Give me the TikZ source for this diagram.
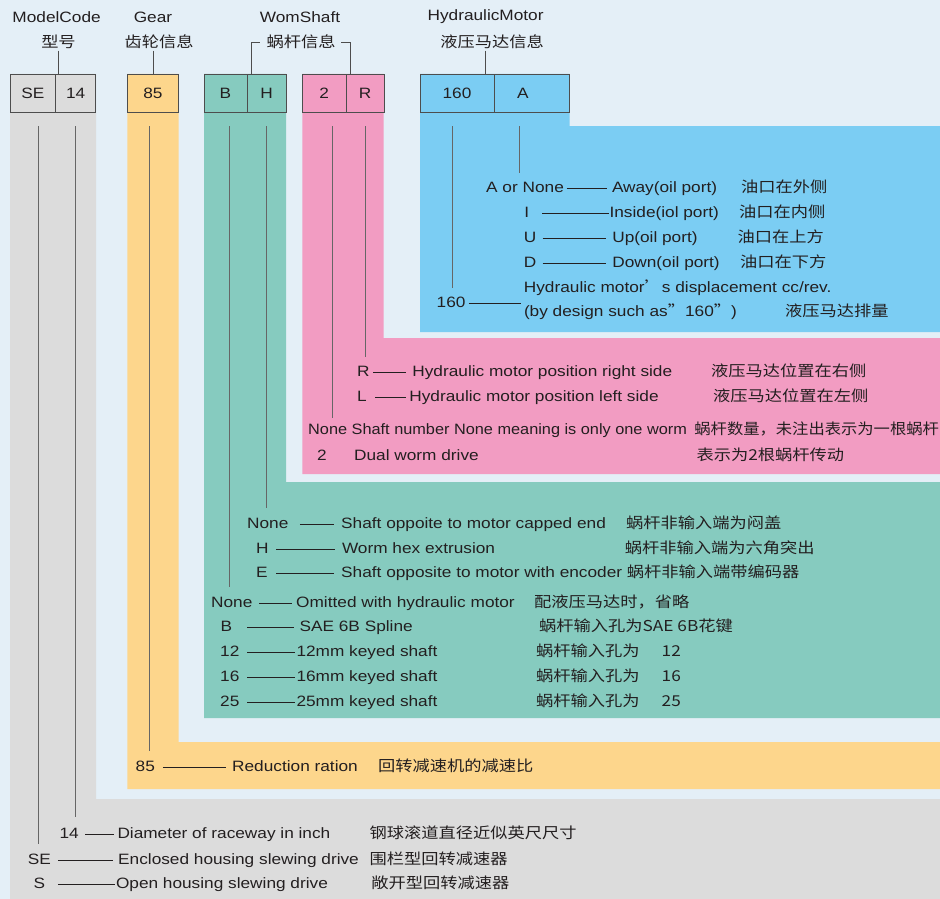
\documentclass[tikz,border=0pt]{standalone}
\usepackage{fontspec}
\usepackage{graphicx}
\setmainfont{Liberation Sans}[FakeStretch=1.15]
\newfontfamily\cjk{Noto Sans CJK SC}[FakeStretch=1.15]
\usetikzlibrary{positioning}
\definecolor{pagebg}{HTML}{E4EFF7}
\definecolor{greyfill}{HTML}{DCDCDC}
\definecolor{gearfill}{HTML}{FDD68C}
\definecolor{wormfill}{HTML}{86CBBF}
\definecolor{shaftfill}{HTML}{F29CC2}
\definecolor{motorfill}{HTML}{7BCDF3}
\definecolor{inkdark}{HTML}{231F20}
\definecolor{boxline}{HTML}{4D4D4D}
\definecolor{leadgrey}{HTML}{666666}
\newcommand\rowfont{\fontsize{15}{18}\selectfont}
\tikzset{
  codebox/.style={draw=boxline,line width=0.8pt,minimum height=38pt,inner sep=0pt,outer sep=0pt,text=inkdark,font=\rowfont},
  headtext/.style={inner sep=1.5pt,text=inkdark,font=\rowfont},
  headcjk/.style={headtext,font=\rowfont\cjk},
  plaintext/.style={anchor=west,inner sep=0pt,text=inkdark,font=\rowfont},
  rowtext/.style={plaintext,text height=11pt,text depth=3pt},
  cjktext/.style={rowtext,font=\rowfont\cjk},
  leadline/.style={draw=leadgrey,line width=0.8pt},
  dashline/.style={draw=inkdark,line width=0.7pt}
}

\begin{document}
\begin{tikzpicture}[x=1pt,y=-1pt]
  \useasboundingbox[fill=pagebg] (0,0) rectangle (940,899);

  % colour bands
  \fill[greyfill] (10,74) -- (96,74) -- (96,799) -- (940,799) -- (940,899) -- (10,899) -- cycle;
  \fill[gearfill] (127.4,74) -- (178.7,74) -- (178.7,742) -- (940,742) -- (940,789) -- (127.4,789) -- cycle;
  \fill[wormfill] (204,74) -- (286,74) -- (286,482) -- (940,482) -- (940,718) -- (204,718) -- cycle;
  \fill[shaftfill] (302.4,74) -- (383.6,74) -- (383.6,338) -- (940,338) -- (940,474) -- (302.4,474) -- cycle;
  \fill[motorfill] (420,74) -- (569.5,74) -- (569.5,126) -- (940,126) -- (940,332) -- (420,332) -- cycle;

  % code boxes
  \node[codebox,fill=greyfill,minimum width=45.2pt] (boxSE) at (32.9,93) {SE};
  \node[codebox,fill=greyfill,minimum width=40.2pt,right=0pt of boxSE] (box14) {14};
  \node[codebox,fill=gearfill,minimum width=51.3pt] (box85) at (153,93) {85};
  \node[codebox,fill=wormfill,minimum width=43pt] (boxB) at (225.5,93) {B};
  \node[codebox,fill=wormfill,minimum width=39pt,right=0pt of boxB] (boxH) {H};
  \node[codebox,fill=shaftfill,minimum width=43.6pt] (box2) at (324.2,93) {2};
  \node[codebox,fill=shaftfill,minimum width=38pt,right=0pt of box2] (boxR) {R};
  \node[codebox,fill=motorfill,minimum width=74pt] (box160) at (457,93) {160};
  \node[codebox,fill=motorfill,minimum width=75.5pt,right=0pt of box160] (boxA) {A\hspace*{18pt}};

  % headings
  \node[headtext] (hModel) at (56.6,17) {ModelCode};
  \node[headcjk] (hModelZh) at (58.5,42) {型号};
  \node[headtext] (hGear) at (153,17) {Gear};
  \node[headcjk] (hGearZh) at (159,42) {齿轮信息};
  \node[headtext] (hWorm) at (300,17) {WomShaft};
  \node[headcjk] (hWormZh) at (301,42) {蜗杆信息};
  \node[headtext] (hMotor) at (485.6,17) {HydraulicMotor};
  \node[headcjk] (hMotorZh) at (492,42) {液压马达信息};

  \draw[leadline,draw=boxline] (hModelZh.south) -- (hModelZh.south |- boxSE.north);
  \draw[leadline,draw=boxline] (box85.north |- hGearZh.south) -- (box85.north);
  \draw[leadline,draw=boxline] (hMotor.center |- hMotorZh.south) -- (hMotor.center |- box160.north);
  \draw[leadline,draw=boxline] ([xshift=-5pt]hWormZh.west) -| ([xshift=4pt]boxB.north east);
  \draw[leadline,draw=boxline] ([xshift=4pt]hWormZh.east) -| ([xshift=4.5pt]box2.north east);

  % hydraulic motor
  \foreach \n/\y/\cx/\code/\sa/\sb/\dx/\desc/\zx/\zh in {
    1/188.3/486/{A or None}/2.6pt/5.2pt/611.8/{Away(oil port)}/741/{油口在外侧},
    2/213.3/524.1/I/13.1pt/0.5pt/609.4/{Inside(iol port)}/739/{油口在内侧},
    3/238.3/523.6/U/6.2pt/6.2pt/612.1/{Up(oil port)}/737.5/{油口在上方},
    4/263.3/523.6/D/6.2pt/6.3pt/612.2/{Down(oil port)}/740/{油口在下方}} {
    \node[rowtext] (mc\n) at (\cx,\y) {\code};
    \node[rowtext] (md\n) at (\dx,\y) {\desc};
    \node[cjktext] (mz\n) at (\zx,\y) {\zh};
    \draw[dashline,shorten <=\sa,shorten >=\sb] (mc\n.east) -- (md\n.west);
  }
  \node[rowtext] (mc5) at (436.5,303.5) {160};
  \node[rowtext] (md5) at (523.7,288.3) {Hydraulic motor{\cjk ’}s displacement cc/rev.};
  \node[rowtext] (md6) at (523.8,312.7) {(by design such as{\cjk ”}160{\cjk ”})};
  \node[cjktext] (mz5) at (785,312.7) {液压马达排量};
  \draw[dashline,shorten <=3pt,shorten >=2.7pt] (mc5.east) -- (mc5.east -| md5.west);

  % motor side and shaft number
  \foreach \n/\y/\cx/\code/\sa/\sb/\dx/\desc/\zx/\zh in {
    1/372.3/357/R/3.5pt/6.5pt/412.2/{Hydraulic motor position right side}/710.8/{液压马达位置在右侧},
    2/397.7/357/L/8.4pt/3.2pt/409.2/{Hydraulic motor position left side}/712.9/{液压马达位置在左侧}} {
    \node[rowtext] (pc\n) at (\cx,\y) {\code};
    \node[rowtext] (pd\n) at (\dx,\y) {\desc};
    \node[cjktext] (pz\n) at (\zx,\y) {\zh};
    \draw[dashline,shorten <=\sa,shorten >=\sb] (pc\n.east) -- (pd\n.west);
  }
  \node[rowtext] (pn) at (308,430) {\scalebox{0.945}[1]{None Shaft number None meaning is only one worm}};
  \node[cjktext] (pnz) at (694.2,430) {\scalebox{0.945}[1]{蜗杆数量，未注出表示为一根蜗杆}};
  \node[rowtext] (pc3) at (317,456) {2};
  \node[rowtext] (pd3) at (354,456) {Dual worm drive};
  \node[cjktext] (pz3) at (696.3,456) {表示为2根蜗杆传动};

  % worm end
  \foreach \n/\y/\cx/\code/\sa/\sb/\dx/\desc/\zx/\zh in {
    1/524/247/None/11.2pt/7.3pt/341/{Shaft oppoite to motor capped end}/625.9/{蜗杆非输入端为闷盖},
    2/549/256/H/7.2pt/7.3pt/341.8/{Worm hex extrusion}/624.7/{蜗杆非输入端为六角突出},
    3/573.3/256/E/8.2pt/7.3pt/341/{Shaft opposite to motor with encoder}/626.7/{蜗杆非输入端带编码器}} {
    \node[rowtext] (wc\n) at (\cx,\y) {\code};
    \node[rowtext] (wd\n) at (\dx,\y) {\desc};
    \node[cjktext] (wz\n) at (\zx,\y) {\zh};
    \draw[dashline,shorten <=\sa,shorten >=\sb] (wc\n.east) -- (wd\n.west);
  }

  % worm input
  \foreach \n/\y/\cx/\code/\sa/\sb/\dx/\desc/\zx/\zh in {
    1/603.3/211/None/6.4pt/4pt/296/{Omitted with hydraulic motor}/534/{配液压马达时，省略},
    2/627.7/220.5/B/15pt/5.4pt/299.4/{SAE 6B Spline}/539/{蜗杆输入孔为SAE 6B花键},
    3/652.7/220/12/7.8pt/1pt/296.3/{12mm keyed shaft}/536/{蜗杆输入孔为\hspace{22pt}12},
    4/677.7/220/16/7.8pt/1pt/296.3/{16mm keyed shaft}/536/{蜗杆输入孔为\hspace{22pt}16},
    5/702.3/220/25/7.8pt/1pt/296.3/{25mm keyed shaft}/536/{蜗杆输入孔为\hspace{22pt}25}} {
    \node[rowtext] (ic\n) at (\cx,\y) {\code};
    \node[rowtext] (id\n) at (\dx,\y) {\desc};
    \node[cjktext] (iz\n) at (\zx,\y) {\zh};
    \draw[dashline,shorten <=\sa,shorten >=\sb] (ic\n.east) -- (id\n.west);
  }

  % gear
  \node[rowtext] (gc) at (135.5,767.7) {85};
  \node[rowtext] (gd) at (232,767.7) {Reduction ration};
  \node[cjktext] (gz) at (378,767.7) {回转减速机的减速比};
  \draw[dashline,shorten <=7.9pt,shorten >=6.2pt] (gc.east) -- (gd.west);

  % model code
  \foreach \n/\y/\cx/\code/\sa/\sb/\dx/\desc/\zx/\zh in {
    1/834.3/59.3/14/6.5pt/3.3pt/117.3/{Diameter of raceway in inch}/369.3/{钢球滚道直径近似英尺尺寸},
    2/860/27.7/SE/6.7pt/5.1pt/118/{Enclosed housing slewing drive}/369.3/{围栏型回转减速器},
    3/884.3/33.5/S/12.4pt/1pt/115.8/{Open housing slewing drive}/371.2/{敞开型回转减速器}} {
    \node[rowtext] (sc\n) at (\cx,\y) {\code};
    \node[rowtext] (sd\n) at (\dx,\y) {\desc};
    \node[cjktext] (sz\n) at (\zx,\y) {\zh};
    \draw[dashline,shorten <=\sa,shorten >=\sb] (sc\n.east) -- (sd\n.west);
  }

  % column lines
  \foreach \v/\vx/\t/\s in {vSE/38.5/sc2/8.7pt,v14/75.4/sc1/10pt,v85/149.3/gc/10pt,vB/229.6/ic1/9.6pt,vH/266.3/wc1/8.7pt,v2/332/pn/4.7pt,vR/365.6/pc1/8.6pt,v160/452.2/mc5/8.7pt,vA/519.5/mc1/8pt} {
    \coordinate (\v) at (\vx,126);
    \draw[leadline,shorten >=\s] (\v) -- (\v |- \t.north);
  }
\end{tikzpicture}
\end{document}
